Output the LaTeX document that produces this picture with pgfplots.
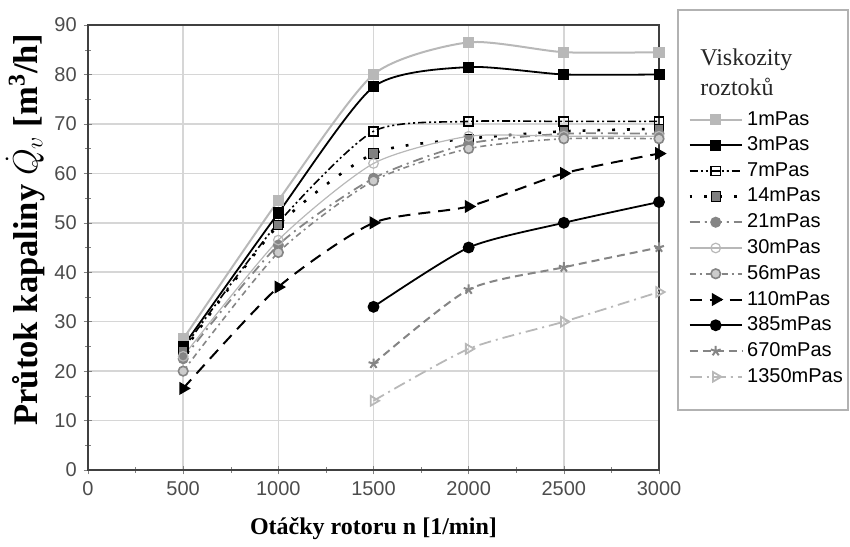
\documentclass[border=0pt]{standalone}
\usepackage{fontspec}
\setmainfont{Liberation Serif}
\setsansfont{Liberation Sans}
\usepackage{pgfplots}
\pgfplotsset{compat=1.18}
\usetikzlibrary{plotmarks}
\definecolor{lgr}{gray}{0.72}
\definecolor{mgr}{gray}{0.52}
\definecolor{gridc}{gray}{0.84}
\definecolor{tickc}{gray}{0.3}
\begin{document}
\begin{tikzpicture}
\path[use as bounding box] (0pt,0pt) rectangle (425pt,273pt);
\begin{axis}[
  at={(44pt,38pt)}, anchor=south west,
  scale only axis, width=285.5pt, height=222.5pt,
  xmin=0, xmax=3000, ymin=0, ymax=90,
  xtick={0,500,1000,1500,2000,2500,3000}, ytick={0,10,20,30,40,50,60,70,80,90},
  minor x tick num=1, minor y tick num=1,
  xtick pos=left, ytick pos=left,
  tick align=center,
  grid=major, major grid style={gridc, line width=0.8pt},
  axis line style={line width=0.8pt, black!75},
  ticklabel style={font=\sffamily\normalsize, text=tickc},
  /pgf/number format/assume math mode=true,
  /pgf/number format/1000 sep={},
  xlabel={Otáčky rotoru n [1/min]},
  xlabel style={font=\bfseries\large, yshift=-4pt},
  ylabel={Průtok kapaliny $\dot{Q}_v$ [m\textsuperscript{3}/h]},
  ylabel style={font=\bfseries\LARGE, xshift=9pt, yshift=-2pt},
  clip=false,
  legend style={at={(axis description cs:1.040,0.825)}, anchor=north west, draw=none, fill=none,
    font=\sffamily\normalsize, row sep=0.4pt},
  legend cell align=left,
  legend image code/.code={\draw[mark repeat=2,mark phase=2] plot coordinates {(0cm,0cm) (0.46cm,0cm) (0.92cm,0cm)};},
]
\addplot[smooth, tension=0.4, lgr, line width=1pt, mark=square*, mark size=2.3pt, mark options={fill=lgr, draw=lgr}]
  coordinates {(500,26.5)(1000,54.5)(1500,80)(2000,86.5)(2500,84.5)(3000,84.5)};
\addlegendentry{1mPas}
\addplot[smooth, tension=0.4, black, line width=0.9pt, mark=square*, mark size=2.3pt, mark options={fill=black}]
  coordinates {(500,25)(1000,52)(1500,77.5)(2000,81.5)(2500,80)(3000,80)};
\addlegendentry{3mPas}
\addplot[smooth, tension=0.4, black, line width=0.8pt, dash pattern=on 4pt off 1.5pt on 1pt off 1.5pt on 1pt off 1.5pt, mark=square, mark size=2.3pt, mark options={solid, fill=white}]
  coordinates {(500,24.5)(1000,50)(1500,68.5)(2000,70.5)(2500,70.5)(3000,70.5)};
\addlegendentry{7mPas}
\addplot[smooth, tension=0.4, black, line width=1.3pt, dash pattern=on 1.4pt off 6pt, mark=square*, mark size=2.3pt, mark options={solid, fill=gray, draw=black, line width=0.5pt}]
  coordinates {(500,24)(1000,49.5)(1500,64)(2000,67)(2500,68.5)(3000,69)};
\addlegendentry{14mPas}
\addplot[smooth, tension=0.4, mgr, line width=0.9pt, dash pattern=on 5pt off 2.5pt on 1pt off 2.5pt, mark=*, mark size=2.3pt, mark options={solid, fill=mgr, draw=mgr}]
  coordinates {(500,22.5)(1000,45.5)(1500,59)(2000,66)(2500,68)(3000,68)};
\addlegendentry{21mPas}
\addplot[smooth, tension=0.4, lgr, line width=0.6pt, mark=o, mark size=2.4pt, mark options={solid, fill=white, draw=lgr}]
  coordinates {(500,23)(1000,46.5)(1500,62)(2000,67.5)(2500,67.5)(3000,67.5)};
\addlegendentry{30mPas}
\addplot[smooth, tension=0.4, mgr, line width=0.8pt, dash pattern=on 3pt off 2pt on 1pt off 2pt, mark=*, mark size=2.4pt, mark options={solid, fill=gray!40, draw=mgr}]
  coordinates {(500,20)(1000,44)(1500,58.5)(2000,65)(2500,67)(3000,67)};
\addlegendentry{56mPas}
\addplot[smooth, tension=0.4, black, line width=1pt, dash pattern=on 6pt off 4pt, mark=triangle*, mark size=2.8pt, mark options={solid, rotate=-90, fill=black}]
  coordinates {(500,16.5)(1000,37)(1500,50)(2000,53.3)(2500,60)(3000,64)};
\addlegendentry{110mPas}
\addplot[smooth, tension=0.4, black, line width=0.9pt, mark=*, mark size=2.5pt, mark options={solid, fill=black, draw=black}]
  coordinates {(1500,33)(2000,45)(2500,50)(3000,54.2)};
\addlegendentry{385mPas}
\addplot[smooth, tension=0.4, mgr, line width=1pt, dash pattern=on 4pt off 2.5pt, mark=star, mark size=2.6pt, mark options={solid, draw=mgr}]
  coordinates {(1500,21.5)(2000,36.5)(2500,41)(3000,45)};
\addlegendentry{670mPas}
\addplot[smooth, tension=0.4, lgr, line width=0.9pt, dash pattern=on 6pt off 2.5pt on 1pt off 2.5pt, mark=triangle, mark size=2.8pt, mark options={solid, rotate=-90, draw=lgr}]
  coordinates {(1500,14)(2000,24.5)(2500,30)(3000,36)};
\addlegendentry{1350mPas}
\end{axis}
\draw[gray!60, line width=0.7pt] (338.9pt,68pt) rectangle (424pt,268pt);
\node[anchor=base west, font=\rmfamily\large, inner sep=0pt, text=black!85] at (350pt,240pt) {Viskozity};
\node[anchor=base west, font=\rmfamily\large, inner sep=0pt, text=black!85] at (350pt,225pt) {roztoků};
\end{tikzpicture}
\end{document}
